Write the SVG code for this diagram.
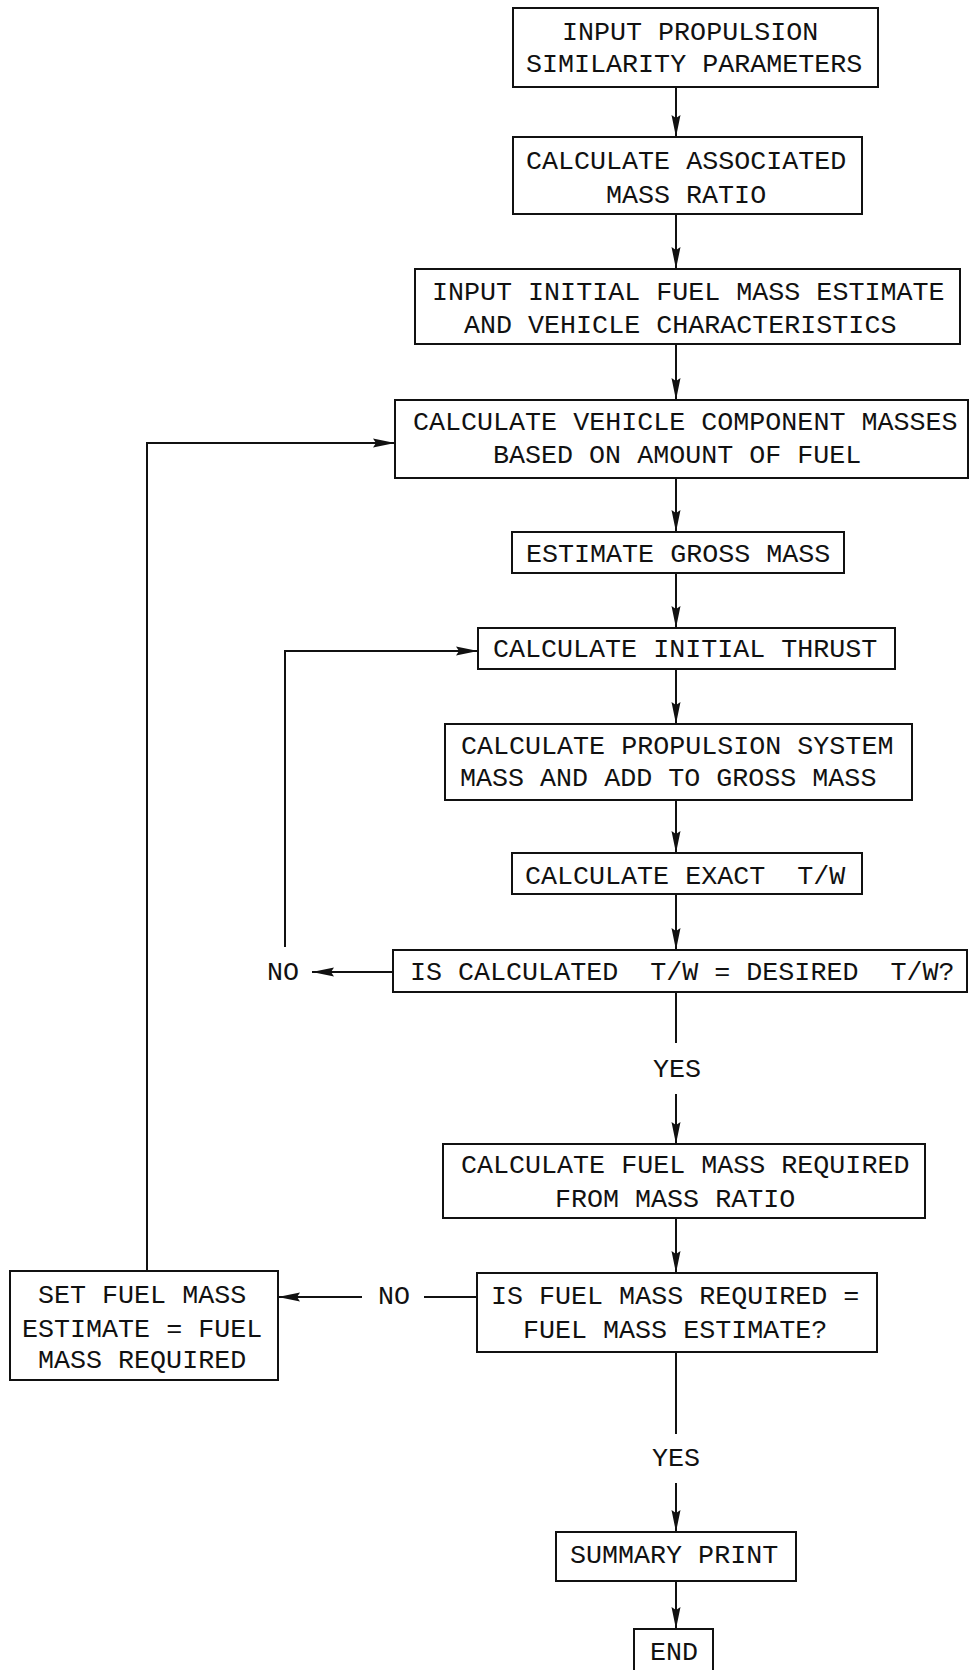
<svg xmlns="http://www.w3.org/2000/svg" width="970" height="1670" viewBox="0 0 970 1670">
<style>
  .box { fill: #fff; stroke: #111; stroke-width: 2; }
  .t { font-family: "Liberation Mono", "Courier New", monospace; font-size: 26.7px; fill: #111; white-space: pre; }
  .c { fill: none; stroke: #111; stroke-width: 2; }
  .a { marker-end: url(#ah); }
</style>
<defs>
  <marker id="ah" viewBox="0 0 22 10" refX="22" refY="5" markerWidth="22" markerHeight="10" markerUnits="userSpaceOnUse" orient="auto">
    <path d="M0,0.5 L22,5 L0,9.5 L3,5 z" fill="#111"/>
  </marker>
</defs>
<rect width="970" height="1670" fill="#fff"/>
<g id="connectors">
  <path class="c a" d="M676,87 V137"/>
  <path class="c a" d="M676,214 V269"/>
  <path class="c a" d="M676,344 V400"/>
  <path class="c a" d="M676,478 V532"/>
  <path class="c a" d="M676,573 V628"/>
  <path class="c a" d="M676,669 V724"/>
  <path class="c a" d="M676,800 V853"/>
  <path class="c a" d="M676,894 V950"/>
  <path class="c" d="M676,992 V1043"/>
  <path class="c a" d="M676,1094 V1144"/>
  <path class="c a" d="M676,1218 V1273"/>
  <path class="c" d="M676,1352 V1434"/>
  <path class="c a" d="M676,1483 V1532"/>
  <path class="c a" d="M676,1581 V1629"/>
  <path class="c a" d="M393,972 H312"/>
  <path class="c a" d="M285,947 V651 H478"/>
  <path class="c" d="M477,1297 H424"/>
  <path class="c a" d="M362,1297 H278"/>
  <path class="c a" d="M147,1271 V443 H395"/>
</g>
<g id="n1"><rect class="box" x="513" y="8" width="365" height="79"/>
  <text class="t" x="562" y="40">INPUT PROPULSION</text>
  <text class="t" x="526" y="72">SIMILARITY PARAMETERS</text></g>
<g id="n2"><rect class="box" x="513" y="137" width="349" height="77"/>
  <text class="t" x="526" y="169">CALCULATE ASSOCIATED</text>
  <text class="t" x="606" y="203">MASS RATIO</text></g>
<g id="n3"><rect class="box" x="415" y="269" width="545" height="75"/>
  <text class="t" x="432" y="300">INPUT INITIAL FUEL MASS ESTIMATE</text>
  <text class="t" x="464" y="333">AND VEHICLE CHARACTERISTICS</text></g>
<g id="n4"><rect class="box" x="395" y="400" width="573" height="78"/>
  <text class="t" x="413" y="430">CALCULATE VEHICLE COMPONENT MASSES</text>
  <text class="t" x="493" y="463">BASED ON AMOUNT OF FUEL</text></g>
<g id="n5"><rect class="box" x="512" y="532" width="332" height="41"/>
  <text class="t" x="526" y="562">ESTIMATE GROSS MASS</text></g>
<g id="n6"><rect class="box" x="478" y="628" width="417" height="41"/>
  <text class="t" x="493" y="657">CALCULATE INITIAL THRUST</text></g>
<g id="n7"><rect class="box" x="445" y="724" width="467" height="76"/>
  <text class="t" x="461" y="754">CALCULATE PROPULSION SYSTEM</text>
  <text class="t" x="460" y="786">MASS AND ADD TO GROSS MASS</text></g>
<g id="n8"><rect class="box" x="512" y="853" width="350" height="41"/>
  <text class="t" x="525" y="884">CALCULATE EXACT  T/W</text></g>
<g id="n9"><rect class="box" x="393" y="950" width="574" height="42"/>
  <text class="t" x="410" y="980">IS CALCULATED  T/W = DESIRED  T/W?</text></g>
<g id="l-no1"><text class="t" x="267" y="980">NO</text></g>
<g id="l-yes1"><text class="t" x="653" y="1077">YES</text></g>
<g id="n10"><rect class="box" x="443" y="1144" width="482" height="74"/>
  <text class="t" x="461" y="1173">CALCULATE FUEL MASS REQUIRED</text>
  <text class="t" x="555" y="1207">FROM MASS RATIO</text></g>
<g id="n11"><rect class="box" x="477" y="1273" width="400" height="79"/>
  <text class="t" x="491" y="1304">IS FUEL MASS REQUIRED =</text>
  <text class="t" x="523" y="1338">FUEL MASS ESTIMATE?</text></g>
<g id="l-no2"><text class="t" x="378" y="1304">NO</text></g>
<g id="n12"><rect class="box" x="10" y="1271" width="268" height="109"/>
  <text class="t" x="38" y="1303">SET FUEL MASS</text>
  <text class="t" x="22" y="1337">ESTIMATE = FUEL</text>
  <text class="t" x="38" y="1368">MASS REQUIRED</text></g>
<g id="l-yes2"><text class="t" x="652" y="1466">YES</text></g>
<g id="n13"><rect class="box" x="556" y="1532" width="240" height="49"/>
  <text class="t" x="570" y="1563">SUMMARY PRINT</text></g>
<g id="n14"><rect class="box" x="634" y="1629" width="79" height="50"/>
  <text class="t" x="650" y="1660">END</text></g>
</svg>
